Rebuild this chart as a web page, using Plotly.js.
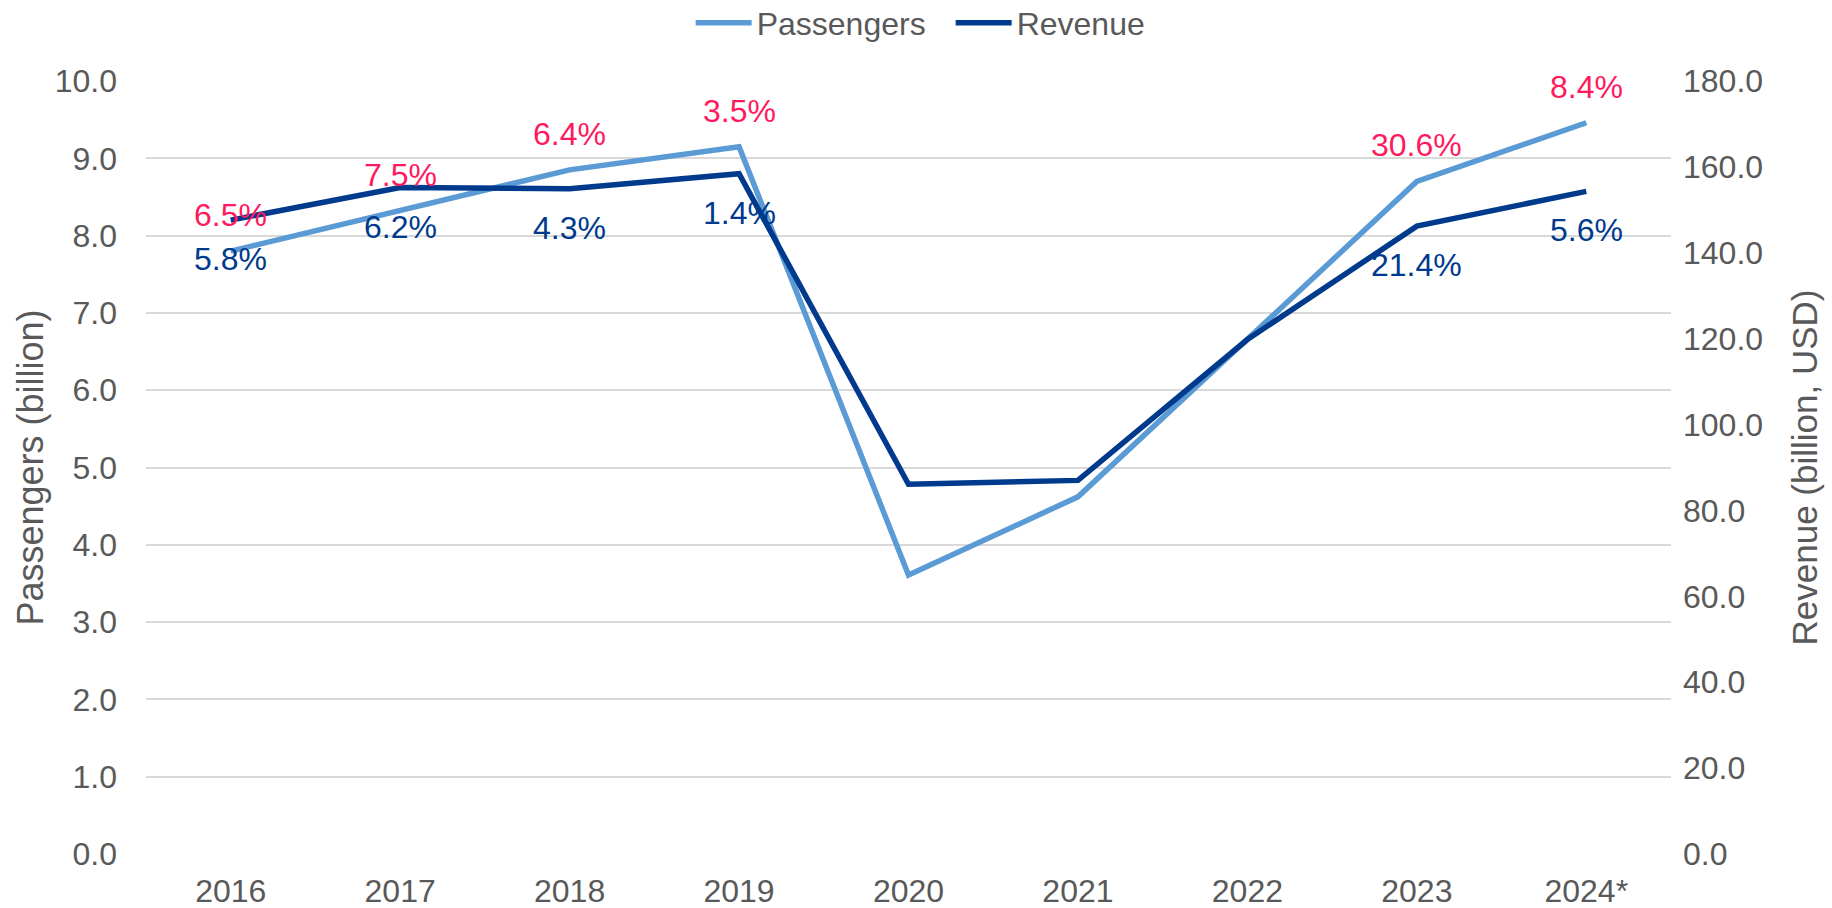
<!DOCTYPE html>
<html>
<head>
<meta charset="utf-8">
<script src="https://cdn.plot.ly/plotly-3.0.1.min.js"></script>
<style>html,body{margin:0;padding:0;background:#fff;}#chart{width:1832px;height:908px;}</style>
</head>
<body>
<div id="chart"></div>
<script>
const years = ["2016", "2017", "2018", "2019", "2020", "2021", "2022", "2023", "2024*"];
const passengers = [7.8, 8.32, 8.85, 9.15, 3.61, 4.62, 6.66, 8.70, 9.46];
const revenue = [147.6, 155.2, 154.9, 158.4, 86.1, 87.0, 119.8, 146.2, 154.3];
const passengerGrowth = ["6.5%", "7.5%", "6.4%", "3.5%", "", "", "", "30.6%", "8.4%"];
const revenueGrowth = ["5.8%", "6.2%", "4.3%", "1.4%", "", "", "", "21.4%", "5.6%"];

const FONT = "Liberation Sans, Arial, sans-serif";
const GRAY = "#595959";
const LIGHT = "#5B9BD5";
const DARK = "#003A8C";
const PINK = "#FF1A5E";

const traces = [
  {x: years, y: passengers, name: "Passengers", type: "scatter", mode: "lines",
   line: {color: LIGHT, width: 5.5}, yaxis: "y"},
  {x: years, y: revenue, name: "Revenue", type: "scatter", mode: "lines",
   line: {color: DARK, width: 5.5}, yaxis: "y2"}
];

const annotations = [];
years.forEach((yr, i) => {
  if (passengerGrowth[i]) annotations.push({x: i, y: passengers[i], xref: "x", yref: "y",
    text: passengerGrowth[i], showarrow: false, yshift: 36, font: {family: FONT, size: 32, color: PINK}});
  if (revenueGrowth[i]) annotations.push({x: i, y: revenue[i], xref: "x", yref: "y2",
    text: revenueGrowth[i], showarrow: false, yshift: -39, font: {family: FONT, size: 32, color: DARK}});
});

const layout = {
  width: 1832, height: 908,
  paper_bgcolor: "#fff", plot_bgcolor: "#fff",
  margin: {l: 146, r: 161, t: 81, b: 54},
  font: {family: FONT, color: GRAY, size: 32},
  showlegend: true,
  legend: {orientation: "h", x: 0.377, xanchor: "left", xref: "container", y: 0.9747, yref: "container", yanchor: "middle",
    font: {family: FONT, size: 32, color: GRAY}, itemwidth: 56, entrywidth: 189, entrywidthmode: "pixels"},
  xaxis: {type: "category", range: [-0.5, 8.5], showgrid: false, zeroline: false, showline: false,
    ticks: "", tickfont: {size: 32, color: GRAY}, ticklabelstandoff: 15},
  yaxis: {range: [0, 10], dtick: 1, tickformat: ".1f", showgrid: true, gridcolor: "#D9D9D9", gridwidth: 2,
    zeroline: false, showline: false, ticks: "", tickfont: {size: 32, color: GRAY}, ticklabelstandoff: 28,
    title: {text: "Passengers (billion)", font: {size: 36, color: GRAY}, standoff: 0}},
  yaxis2: {range: [0, 180], dtick: 20, tickformat: ".1f", overlaying: "y", side: "right", showgrid: false,
    zeroline: false, showline: false, ticks: "", tickfont: {size: 32, color: GRAY}, ticklabelstandoff: 11,
    title: {text: "Revenue (billion, USD)", font: {size: 35, color: GRAY}, standoff: 30}},
  annotations: annotations
};

Plotly.newPlot("chart", traces, layout, {displayModeBar: false});
</script>
</body>
</html>
